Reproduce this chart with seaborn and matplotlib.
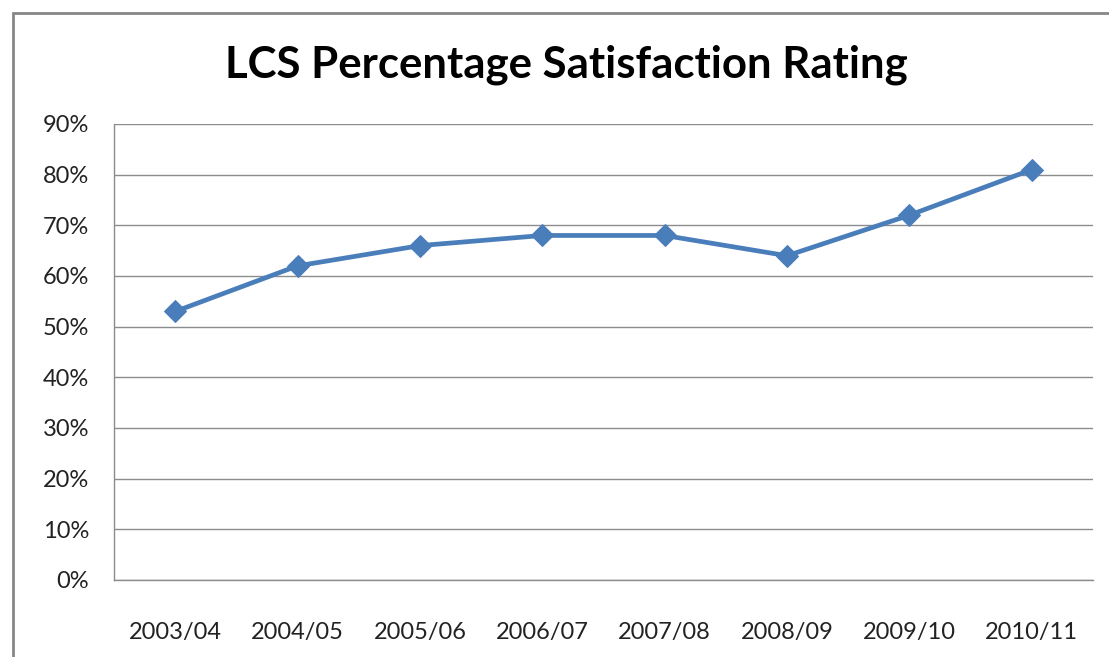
import seaborn as sns
import matplotlib.pyplot as plt
import pandas as pd
from matplotlib.patches import Rectangle
from matplotlib.ticker import FuncFormatter, MultipleLocator

years = ['2003/04', '2004/05', '2005/06', '2006/07', '2007/08', '2008/09', '2009/10', '2010/11']
satisfaction = [0.53, 0.62, 0.66, 0.68, 0.68, 0.64, 0.72, 0.81]

df = pd.DataFrame({'year': years, 'rating': satisfaction})

sns.set_style('white')
plt.rcParams['font.family'] = ['Lato', 'DejaVu Sans']

fig = plt.figure(figsize=(11.09, 6.57), dpi=100)
# chart area border (runs off the right and bottom edge like the screenshot)
fig.patches.append(Rectangle((13 / 1109, -0.1), 1.2, 1 - 13 / 657 + 0.1, transform=fig.transFigure,
                             fill=False, edgecolor='#868686', linewidth=2))

ax = fig.add_axes([114 / 1109, 1 - 580 / 657, (1093 - 114) / 1109, (580 - 124) / 657])
sns.lineplot(data=df, x='year', y='rating', ax=ax, sort=False, color='#4A7EBB',
             linewidth=3.4, marker='D', markersize=11.5, markeredgecolor='#4A7EBB')

ax.set_ylim(0, 0.9)
ax.set_xlim(-0.5, len(years) - 0.5)
ax.yaxis.set_major_locator(MultipleLocator(0.1))
ax.yaxis.set_major_formatter(FuncFormatter(lambda v, _: f'{v * 100:.0f}%'))
ax.grid(axis='y', color='#8C8C8C', linewidth=1)
ax.set_axisbelow(True)

ax.set_xticks(range(len(years)))
ax.set_xticklabels(years)
ax.set_xticks([i - 0.5 for i in range(len(years) + 1)], minor=True)
ax.tick_params(axis='x', which='major', length=0, pad=30, labelsize=17, colors='#222222')
ax.tick_params(axis='x', which='minor', length=8, width=1, color='#8C8C8C', direction='out')
ax.tick_params(axis='y', length=8, width=1, color='#8C8C8C', direction='out', pad=10,
               labelsize=17, labelcolor='#222222')

for side in ['top', 'right']:
    ax.spines[side].set_visible(False)
for side in ['left', 'bottom']:
    ax.spines[side].set_color('#8C8C8C')
    ax.spines[side].set_linewidth(1)

ax.set_xlabel('')
ax.set_ylabel('')

fig.text(0.511, 1 - 65 / 657, 'LCS Percentage Satisfaction Rating', ha='center', va='center',
         fontsize=31.5, fontweight='bold', color='black')

fig.savefig('out.png', dpi=100)
